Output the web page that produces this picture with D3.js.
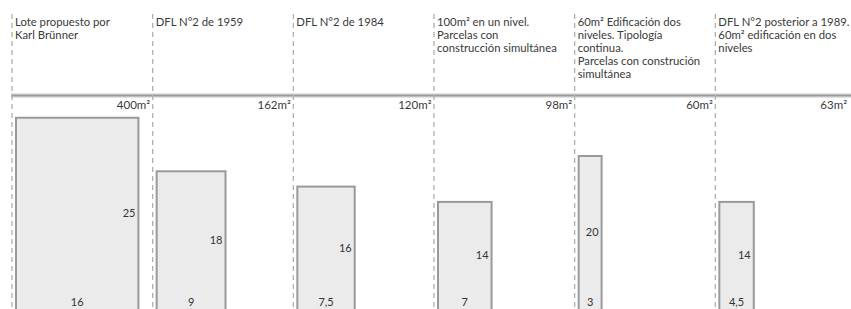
<!DOCTYPE html>
<html>
<head>
<meta charset="utf-8">
<script src="https://cdn.jsdelivr.net/npm/d3@7"></script>
<style>
  body { margin: 0; background: #fff; }
  svg { display: block; font-family: Lato, "Open Sans", sans-serif; }
</style>
</head>
<body>
<div id="chart"></div>
<script>
// lot types (header lines)
var categories = [
  ["Lote propuesto por", "Karl Brünner"],
  ["DFL N°2 de 1959"],
  ["DFL N°2 de 1984"],
  ["100m² en un nivel.", "Parcelas con", "construcción simultánea"],
  ["60m² Edificación dos", "niveles. Tipología", "continua.", "Parcelas con construción", "simultánea"],
  ["DFL N°2 posterior a 1989.", "60m² edificación en dos", "niveles"]
];
var areas = ["400m²", "162m²", "120m²", "98m²", "60m²", "63m²"];
var frente = [16, 9, 7.5, 7, 3, 4.5];
var fondo = [25, 18, 16, 14, 20, 14];

var width = 851, height = 309;

var svg = d3.select("#chart").append("svg")
  .attr("width", width)
  .attr("height", height);

var x = d3.scaleBand()
  .domain(d3.range(categories.length))
  .range([11, 855]);

// same metres-to-pixels scale for both directions
var m = d3.scaleLinear().domain([0, 1]).range([0, 7.65]);
var y = d3.scaleLinear().domain([0, 25]).range([309, 309 - m(25)]);

var fmt = function(v) { return String(v).replace(".", ","); };

// horizontal rule
svg.append("line")
  .attr("x1", 11).attr("x2", width)
  .attr("y1", 95.5).attr("y2", 95.5)
  .style("stroke", "#c8c8c8")
  .style("stroke-width", 4);
svg.append("line")
  .attr("x1", 11).attr("x2", width)
  .attr("y1", 95.5).attr("y2", 95.5)
  .style("stroke", "#9a9a9a")
  .style("stroke-width", 1.5);

var col = svg.selectAll(".col")
  .data(categories)
.enter().append("g")
  .attr("class", "col")
  .attr("transform", function(d, i) { return "translate(" + x(i) + ",0)"; });

col.append("line")
  .attr("x1", 1).attr("x2", 1)
  .attr("y1", 14).attr("y2", height)
  .style("stroke", "#b0b0b0")
  .style("stroke-width", 1.3)
  .style("stroke-dasharray", "5,4");

col.append("text")
  .attr("x", 4)
  .attr("y", 26)
  .style("font-size", "11.3px")
  .style("fill", "#3a3a3a")
  .selectAll("tspan")
  .data(function(d) { return d; })
.enter().append("tspan")
  .attr("x", 4)
  .attr("dy", function(d, j) { return j === 0 ? 0 : 13; })
  .text(function(d) { return d; });

col.append("text")
  .attr("x", function(d, i) { return Math.min(x.bandwidth() - 1.5, width - 4 - x(i)); })
  .attr("y", 109)
  .attr("text-anchor", "end")
  .style("font-size", "11.5px")
  .style("fill", "#3a3a3a")
  .text(function(d, i) { return areas[i]; });

col.append("rect")
  .attr("x", 5)
  .attr("y", function(d, i) { return y(fondo[i]); })
  .attr("width", function(d, i) { return m(frente[i]); })
  .attr("height", function(d, i) { return y(0) - y(fondo[i]) + 5; })
  .style("fill", "#ebebeb")
  .style("stroke", "#9a9a9a")
  .style("stroke-width", 2);

col.append("text")
  .attr("x", function(d, i) { return 5 + m(frente[i]) - 3; })
  .attr("y", function(d, i) { return (y(fondo[i]) + y(0)) / 2; })
  .attr("dy", "0.35em")
  .attr("text-anchor", "end")
  .style("font-size", "11px")
  .style("fill", "#333")
  .text(function(d, i) { return fondo[i]; });

col.append("text")
  .attr("x", function(d, i) { return 5 + m(frente[i]) / 2; })
  .attr("y", 306)
  .attr("text-anchor", "middle")
  .style("font-size", "11px")
  .style("fill", "#333")
  .text(function(d, i) { return fmt(frente[i]); });
</script>
</body>
</html>
